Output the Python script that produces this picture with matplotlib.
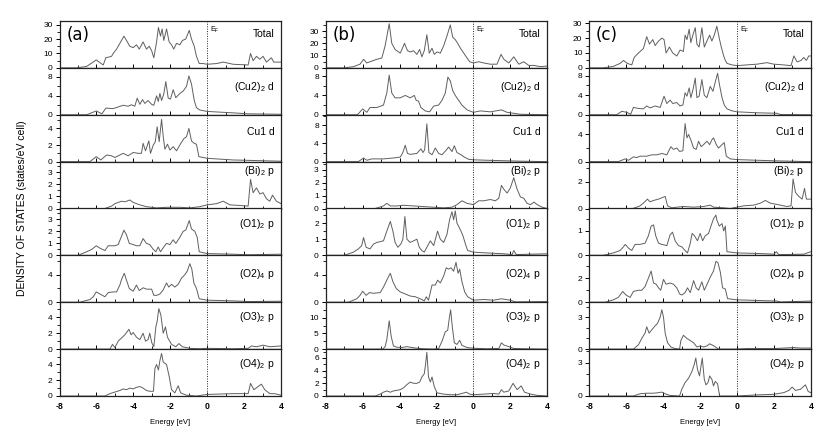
import matplotlib
matplotlib.use('Agg')
import matplotlib.pyplot as plt
from matplotlib.ticker import AutoMinorLocator, MultipleLocator

plt.rcParams['font.family'] = ['Liberation Sans', 'DejaVu Sans']
plt.rcParams['mathtext.default'] = 'regular'
plt.rcParams['axes.unicode_minus'] = False

a_total = [(-8, 0), (-7.08, 0), (-6.53, 1), (-6.01, 5.5), (-5.63, 2), (-5.49, 7), (-5.18, 8), (-5.09, 10),
           (-4.91, 13), (-4.73, 17), (-4.51, 22), (-4.37, 19), (-4.19, 15), (-4.01, 14), (-3.83, 16),
           (-3.68, 13), (-3.47, 18), (-3.29, 13), (-3.14, 15), (-3.01, 12), (-2.89, 7), (-2.74, 18),
           (-2.64, 28), (-2.53, 22), (-2.44, 27), (-2.35, 19), (-2.2, 27), (-2.06, 18), (-1.93, 16),
           (-1.81, 13), (-1.66, 17), (-1.48, 16), (-1.34, 19), (-1.16, 20), (-0.97, 26), (-0.85, 20),
           (-0.7, 15), (-0.58, 8), (-0.43, 3), (-0.22, 3), (0, 2.5), (0.51, 3), (0.87, 4), (1.41, 2.5),
           (2.22, 2), (2.35, 10), (2.49, 5), (2.67, 8), (2.85, 6), (3.03, 8), (3.21, 4), (3.48, 7),
           (3.61, 4), (4, 4)]
a_cu2 = [(-8, 0), (-6.53, 0), (-6.01, 0.8), (-5.7, 0.2), (-5.49, 1.4), (-5.09, 1.3), (-4.55, 2.0), (-4.28, 1.8),
         (-4.1, 2.1), (-3.92, 1.8), (-3.79, 3.5), (-3.65, 2.2), (-3.5, 3.2), (-3.38, 2.4), (-3.2, 3.0),
         (-3.01, 2.2), (-2.89, 2.0), (-2.74, 4.0), (-2.65, 2.8), (-2.56, 4.5), (-2.47, 3.0), (-2.35, 4.4),
         (-2.24, 7.0), (-2.11, 3.5), (-1.99, 3.3), (-1.84, 5.3), (-1.7, 3.6), (-1.48, 4.5), (-1.3, 5.0),
         (-1.12, 6.0), (-0.99, 8.2), (-0.85, 6.5), (-0.7, 3.0), (-0.58, 1.5), (-0.4, 1.0), (0, 0.7),
         (1.41, 0.4), (2.22, 0.2), (4, 0.1)]
a_cu1 = [(-8, 0), (-6.35, 0), (-6.01, 0.6), (-5.76, 0.2), (-5.45, 0.8), (-5.18, 0.7), (-5.0, 0.5), (-4.55, 1.0),
         (-4.28, 0.7), (-4.01, 1.1), (-3.74, 1.0), (-3.56, 1.0), (-3.47, 2.2), (-3.34, 1.3), (-3.16, 2.5),
         (-3.07, 1.0), (-2.92, 2.0), (-2.81, 2.4), (-2.71, 4.2), (-2.6, 2.4), (-2.47, 5.1), (-2.38, 3.0),
         (-2.29, 1.5), (-2.15, 2.1), (-2.02, 1.4), (-1.84, 1.8), (-1.66, 1.3), (-1.43, 2.2), (-1.25, 2.8),
         (-1.12, 3.0), (-0.99, 4.0), (-0.85, 2.5), (-0.7, 2.2), (-0.58, 2.1), (-0.45, 0.6), (0, 0.4),
         (1.41, 0.2), (4, 0.05)]
a_bi = [(-8, 0), (-5.54, 0), (-5.18, 0.2), (-5.0, 0.4), (-4.82, 0.5), (-4.64, 0.6), (-4.46, 0.55), (-4.19, 0.7),
        (-4.01, 0.5), (-3.65, 0.3), (-3.29, 0.15), (-2.74, 0.05), (-2.2, 0.1), (-1.48, 0.1), (-0.94, 0.05),
        (-0.4, 0.15), (0, 0.3), (0.51, 0.4), (0.87, 0.6), (1.23, 0.3), (1.77, 0.25), (2.22, 0.2), (2.35, 2.4),
        (2.49, 1.3), (2.67, 1.7), (2.85, 1.2), (3.03, 1.3), (3.21, 0.8), (3.39, 0.6), (3.54, 1.1),
        (3.75, 0.6), (4, 0.4)]
a_o1 = [(-8, 0), (-7.0, 0), (-6.53, 0.3), (-6.25, 0.5), (-6.01, 0.8), (-5.81, 0.6), (-5.54, 0.4), (-5.36, 0.8),
        (-5.0, 0.8), (-4.82, 0.9), (-4.69, 1.4), (-4.51, 2.1), (-4.37, 1.7), (-4.22, 1.0), (-4.01, 0.9),
        (-3.83, 0.8), (-3.65, 0.8), (-3.47, 1.4), (-3.29, 1.0), (-3.11, 0.9), (-2.92, 0.5), (-2.78, 0.3),
        (-2.65, 0.7), (-2.53, 0.3), (-2.35, 0.7), (-2.2, 1.0), (-2.02, 0.9), (-1.84, 1.3), (-1.7, 1.0),
        (-1.48, 1.5), (-1.3, 2.0), (-1.16, 2.1), (-0.97, 2.9), (-0.85, 2.2), (-0.67, 2.0), (-0.54, 1.5),
        (-0.43, 0.3), (0, 0.15), (1.41, 0.1), (2.22, 0.05), (4, 0.1)]
a_o2 = [(-8, 0), (-6.9, 0), (-6.35, 0.4), (-6.17, 0.8), (-6.01, 1.5), (-5.81, 1.2), (-5.54, 0.8), (-5.36, 1.4),
        (-5.09, 1.5), (-4.91, 1.5), (-4.73, 2.5), (-4.64, 3.3), (-4.49, 4.2), (-4.37, 3.2), (-4.22, 2.0),
        (-4.01, 1.6), (-3.83, 2.5), (-3.68, 1.7), (-3.47, 2.1), (-3.29, 1.9), (-3.01, 1.9), (-2.89, 1.0),
        (-2.74, 1.0), (-2.56, 1.2), (-2.38, 1.8), (-2.2, 2.8), (-2.08, 2.2), (-1.93, 2.6), (-1.75, 2.2),
        (-1.57, 2.6), (-1.39, 3.5), (-1.21, 4.0), (-1.08, 4.5), (-0.94, 5.6), (-0.83, 4.8), (-0.72, 2.8),
        (-0.58, 2.0), (-0.43, 0.5), (0, 0.3), (1.41, 0.2), (2.22, 0.1), (4, 0.15)]
a_o3 = [(-8, 0), (-5.27, 0), (-5.13, 0.6), (-5.0, 0.2), (-4.82, 1.0), (-4.64, 1.4), (-4.46, 1.8), (-4.24, 2.5),
        (-4.12, 1.8), (-4.01, 2.1), (-3.83, 1.5), (-3.65, 1.2), (-3.47, 2.0), (-3.34, 1.0), (-3.2, 1.2),
        (-3.11, 2.0), (-3.0, 0.8), (-2.89, 0.3), (-2.78, 2.8), (-2.71, 3.5), (-2.62, 5.1), (-2.51, 4.3),
        (-2.38, 2.0), (-2.26, 2.8), (-2.15, 1.5), (-1.93, 0.6), (-1.7, 0.3), (-1.53, 0.7), (-1.34, 0.3),
        (-0.94, 0.1), (-0.4, 0.05), (0, 0.1), (1.41, 0.05), (2.22, 0.1), (2.4, 0.4), (2.67, 0.3),
        (3.03, 0.5), (3.39, 0.3), (4, 0.4)]
a_o4 = [(-8, 0), (-5.54, 0), (-5.27, 0.3), (-5.0, 0.5), (-4.73, 0.7), (-4.55, 0.9), (-4.37, 0.8), (-4.19, 1.0),
        (-4.01, 0.9), (-3.83, 1.1), (-3.65, 1.2), (-3.47, 1.0), (-3.29, 0.7), (-3.11, 0.6), (-2.91, 0.6),
        (-2.83, 3.5), (-2.74, 4.0), (-2.64, 3.3), (-2.56, 4.5), (-2.47, 5.4), (-2.38, 4.3), (-2.2, 4.0),
        (-2.06, 2.5), (-1.93, 0.8), (-1.75, 0.4), (-1.57, 1.3), (-1.44, 0.4), (-1.12, 0.1), (-0.58, 0.0),
        (0, 0.2), (1.41, 0.3), (2.22, 0.3), (2.35, 1.6), (2.53, 0.8), (2.76, 1.2), (2.94, 1.5), (3.12, 0.8),
        (3.39, 0.3), (3.65, 0.3), (4, 0.1)]

b_total = [(-8, 0), (-7.0, 0), (-6.5, 1), (-6.14, 3), (-5.95, 7), (-5.77, 4), (-5.6, 5), (-5.23, 7), (-4.96, 8),
           (-4.78, 18), (-4.56, 36), (-4.42, 20), (-4.24, 15), (-3.96, 12), (-3.73, 20), (-3.57, 14),
           (-3.42, 13), (-3.24, 14), (-3.06, 11), (-2.91, 15), (-2.79, 9), (-2.66, 14), (-2.52, 27),
           (-2.39, 12), (-2.24, 16), (-2.12, 11), (-1.97, 13), (-1.79, 12), (-1.61, 18), (-1.43, 26),
           (-1.25, 35), (-1.12, 25), (-0.98, 23), (-0.85, 20), (-0.7, 16), (-0.52, 12), (-0.34, 8),
           (-0.2, 5), (0, 4), (0.29, 5), (0.56, 4), (0.92, 3), (1.28, 3), (1.5, 11), (1.65, 7), (1.92, 4),
           (2.19, 9), (2.46, 3), (2.73, 5), (3.0, 2), (3.28, 2), (3.64, 1), (4, 1.5)]
b_cu2 = [(-8, 0), (-6.28, 0), (-6.0, 1.2), (-5.77, 0.5), (-5.6, 1.5), (-5.23, 1.5), (-4.87, 2.0), (-4.69, 4.5),
         (-4.56, 8.2), (-4.42, 4.5), (-4.24, 3.5), (-3.96, 3.5), (-3.69, 4.0), (-3.42, 3.5), (-3.2, 4.0),
         (-3.1, 3.0), (-2.97, 2.8), (-2.84, 1.5), (-2.61, 0.8), (-2.37, 0.6), (-2.15, 1.8), (-1.88, 2.0),
         (-1.7, 3.0), (-1.52, 4.5), (-1.38, 7.8), (-1.25, 7.0), (-1.12, 5.0), (-0.98, 4.0), (-0.8, 3.0),
         (-0.62, 2.0), (-0.34, 1.0), (0, 0.5), (0.38, 0.8), (0.92, 0.6), (1.52, 1.0), (1.83, 0.5),
         (2.19, 0.3), (2.55, 0.1), (4, 0.0)]
b_cu1 = [(-8, 0), (-6.23, 0), (-5.95, 0.8), (-5.77, 0.3), (-5.5, 0.6), (-4.87, 0.6), (-4.33, 0.8), (-3.96, 1.0),
         (-3.82, 2.0), (-3.69, 3.6), (-3.57, 1.8), (-3.42, 1.6), (-3.06, 1.8), (-2.84, 2.8), (-2.73, 2.0),
         (-2.64, 2.6), (-2.52, 8.3), (-2.41, 2.0), (-2.24, 1.5), (-2.06, 3.0), (-1.88, 1.8), (-1.7, 1.5),
         (-1.52, 2.3), (-1.34, 3.2), (-1.16, 2.2), (-1.03, 3.5), (-0.89, 2.0), (-0.67, 1.5), (-0.49, 1.0),
         (-0.25, 0.5), (0, 0.4), (0.74, 0.3), (1.65, 0.2), (2.55, 0.1), (4, 0.0)]
b_bi = [(-8, 0), (-5.32, 0), (-4.87, 0.2), (-4.69, 0.4), (-4.5, 0.2), (-4.14, 0.2), (-3.78, 0.25), (-3.24, 0.2),
        (-2.7, 0.15), (-2.15, 0.1), (-1.61, 0.05), (-1.16, 0.1), (-0.89, 0.3), (-0.62, 0.6), (-0.34, 0.4),
        (0, 0.3), (0.29, 0.6), (0.56, 0.6), (0.92, 0.7), (1.19, 0.6), (1.38, 0.8), (1.52, 1.8), (1.65, 1.5),
        (1.83, 1.2), (2.0, 1.6), (2.19, 2.4), (2.37, 1.5), (2.55, 0.9), (2.73, 0.8), (2.91, 0.4),
        (3.1, 0.3), (3.28, 0.5), (3.46, 0.3), (3.73, 0.1), (4, 0)]
b_o1 = [(-8, 0), (-7.0, 0), (-6.5, 0.2), (-6.23, 0.4), (-6.05, 0.6), (-5.95, 1.1), (-5.81, 0.5), (-5.6, 0.4),
        (-5.41, 0.7), (-5.23, 0.8), (-4.87, 0.9), (-4.69, 1.5), (-4.5, 2.1), (-4.36, 1.5), (-4.24, 0.8),
        (-4.09, 0.5), (-3.93, 0.7), (-3.82, 1.0), (-3.71, 2.4), (-3.6, 1.0), (-3.42, 0.8), (-3.24, 0.9),
        (-3.06, 1.0), (-2.93, 0.5), (-2.79, 0.3), (-2.66, 0.2), (-2.52, 0.5), (-2.33, 0.9), (-2.15, 0.6),
        (-1.94, 1.5), (-1.79, 1.0), (-1.61, 0.8), (-1.43, 1.3), (-1.29, 2.2), (-1.16, 2.7), (-1.07, 2.2),
        (-0.98, 2.75), (-0.89, 2.0), (-0.8, 1.8), (-0.67, 1.5), (-0.56, 1.2), (-0.43, 0.7), (-0.31, 0.3),
        (0, 0.2), (0.74, 0.15), (1.65, 0.1), (2.1, 0.05), (2.19, 0.3), (2.32, 0.05), (4, 0.1)]
b_o2 = [(-8, 0), (-6.77, 0), (-6.32, 0.5), (-6.14, 1.0), (-6.0, 1.6), (-5.81, 1.0), (-5.63, 1.4), (-5.41, 1.3),
        (-5.05, 1.4), (-4.87, 2.2), (-4.69, 3.2), (-4.5, 4.2), (-4.36, 3.0), (-4.18, 2.0), (-3.96, 1.5),
        (-3.69, 1.2), (-3.42, 0.9), (-3.15, 0.8), (-2.97, 0.6), (-2.79, 0.4), (-2.66, 0.2), (-2.55, 0.8),
        (-2.43, 0.3), (-2.24, 2.5), (-2.06, 2.5), (-1.94, 3.2), (-1.79, 2.8), (-1.61, 3.8), (-1.47, 5.0),
        (-1.34, 4.8), (-1.21, 5.0), (-1.07, 4.5), (-0.94, 5.8), (-0.83, 4.2), (-0.74, 4.8), (-0.62, 3.0),
        (-0.47, 1.5), (-0.31, 0.8), (0, 0.3), (0.56, 0.4), (1.1, 0.3), (1.52, 0.5), (2.0, 0.3),
        (2.28, 0.05), (4, 0.1)]
b_o3 = [(-8, 0), (-4.9, 0), (-4.78, 0.8), (-4.69, 3.0), (-4.56, 9.0), (-4.45, 4.0), (-4.33, 1.0), (-4.14, 0.6),
        (-3.87, 0.5), (-3.6, 0.8), (-3.33, 0.5), (-3.06, 0.3), (-2.7, 0.1), (-2.15, 0.0), (-1.88, 0.2),
        (-1.7, 2.5), (-1.52, 5.5), (-1.39, 6.0), (-1.3, 10.0), (-1.23, 12.5), (-1.14, 7.0), (-1.03, 2.0),
        (-0.89, 1.5), (-0.74, 2.8), (-0.62, 1.2), (-0.34, 0.5), (0, 0.3), (0.74, 0.1), (1.38, 0.2),
        (1.52, 2.0), (1.65, 1.3), (1.92, 0.8), (2.19, 0.2), (2.73, 0.1), (4, 0)]
b_o4 = [(-8, 0), (-5.32, 0), (-5.05, 0.3), (-4.87, 0.6), (-4.69, 0.8), (-4.5, 0.6), (-4.33, 0.8), (-4.14, 0.9),
        (-3.96, 1.0), (-3.78, 1.3), (-3.6, 1.8), (-3.42, 2.2), (-3.24, 2.0), (-3.06, 2.0), (-2.91, 2.2),
        (-2.79, 3.0), (-2.66, 3.5), (-2.59, 5.0), (-2.52, 6.9), (-2.43, 3.0), (-2.33, 2.2), (-2.24, 3.0),
        (-2.12, 1.5), (-1.97, 0.5), (-1.61, 0.3), (-1.25, 0.2), (-0.89, 0.2), (-0.62, 0.4), (-0.38, 0.6),
        (-0.2, 0.3), (0, 0.2), (0.56, 0.3), (1.1, 0.4), (1.38, 0.3), (1.52, 1.0), (1.65, 0.6), (1.92, 0.8),
        (2.15, 2.0), (2.37, 1.0), (2.59, 1.6), (2.77, 0.6), (3.1, 0.3), (3.46, 0.1), (4, 0)]

c_total = [(-8, 0), (-7.24, 0), (-6.7, 1), (-6.33, 3), (-6.15, 5), (-5.94, 3), (-5.7, 2), (-5.57, 7), (-5.34, 10),
           (-5.07, 13), (-4.89, 21), (-4.74, 16), (-4.56, 19), (-4.43, 15), (-4.25, 18), (-4.07, 20),
           (-3.95, 19), (-3.84, 10), (-3.66, 14), (-3.48, 10), (-3.26, 8), (-3.08, 12), (-2.9, 11),
           (-2.81, 22), (-2.71, 19), (-2.59, 26), (-2.5, 17), (-2.39, 22), (-2.26, 27), (-2.17, 16),
           (-2.05, 14), (-1.9, 27), (-1.77, 14), (-1.63, 18), (-1.48, 22), (-1.36, 18), (-1.23, 22),
           (-1.09, 28), (-0.96, 20), (-0.85, 14), (-0.72, 8), (-0.63, 5), (-0.54, 3), (-0.27, 2), (0, 1.5),
           (0.54, 2), (1.09, 2.5), (1.63, 3.5), (1.99, 2.5), (2.53, 2.0), (2.93, 1.5), (3.08, 8), (3.26, 4),
           (3.47, 5), (3.62, 7), (3.76, 5), (3.89, 8), (4, 8)]
c_cu2 = [(-8, 0), (-6.52, 0), (-6.24, 0.7), (-5.97, 0.5), (-5.76, 0.1), (-5.61, 1.5), (-5.34, 1.3), (-5.07, 1.2),
         (-4.89, 1.8), (-4.71, 1.4), (-4.43, 1.8), (-4.16, 1.5), (-3.95, 3.8), (-3.8, 2.3), (-3.62, 3.0),
         (-3.48, 2.3), (-3.26, 2.5), (-3.08, 1.8), (-2.93, 2.0), (-2.81, 4.5), (-2.71, 3.8), (-2.59, 5.5),
         (-2.5, 3.5), (-2.39, 5.0), (-2.26, 7.5), (-2.17, 3.5), (-2.05, 3.8), (-1.9, 7.2), (-1.77, 4.0),
         (-1.63, 3.5), (-1.45, 5.8), (-1.3, 4.8), (-1.19, 6.5), (-1.05, 8.5), (-0.94, 6.0), (-0.81, 3.5),
         (-0.69, 2.0), (-0.54, 1.2), (-0.27, 0.8), (0, 0.6), (1.09, 0.4), (2.17, 0.3), (2.35, 0.05), (4, 0)]
c_cu1 = [(-8, 0), (-6.43, 0), (-6.06, 0.4), (-5.88, 0.2), (-5.61, 0.7), (-5.43, 0.6), (-5.25, 0.8), (-4.89, 0.8),
         (-4.62, 1.0), (-4.34, 1.0), (-4.07, 1.2), (-3.8, 1.0), (-3.71, 1.5), (-3.58, 2.2), (-3.44, 1.8),
         (-3.26, 2.0), (-3.11, 1.5), (-2.93, 1.6), (-2.81, 5.6), (-2.71, 3.5), (-2.62, 4.0), (-2.5, 3.2),
         (-2.35, 2.0), (-2.21, 1.8), (-2.08, 3.0), (-1.94, 2.2), (-1.81, 2.5), (-1.63, 3.0), (-1.48, 2.5),
         (-1.36, 3.2), (-1.27, 3.5), (-1.12, 2.5), (-1.0, 2.0), (-0.81, 2.5), (-0.69, 2.8), (-0.58, 0.8),
         (-0.36, 0.4), (0, 0.3), (1.09, 0.2), (2.35, 0.1), (4, 0)]
c_bi = [(-8, 0), (-5.65, 0), (-5.43, 0.1), (-5.25, 0.2), (-5.07, 0.4), (-4.85, 0.7), (-4.71, 0.5), (-4.52, 0.6),
        (-4.25, 0.7), (-4.07, 0.8), (-3.89, 0.9), (-3.76, 0.2), (-3.53, 0.05), (-3.26, 0.1), (-2.9, 0.15),
        (-2.35, 0.1), (-1.81, 0.15), (-1.45, 0.25), (-1.27, 0.1), (-0.72, 0.05), (-0.36, 0.0), (0, 0.1),
        (0.36, 0.2), (0.9, 0.25), (1.27, 0.4), (1.54, 0.6), (1.81, 0.4), (2.17, 0.3), (2.71, 0.15),
        (2.93, 0.2), (3.04, 2.2), (3.17, 1.2), (3.35, 0.9), (3.53, 0.7), (3.66, 1.5), (3.76, 0.7), (4, 0.7)]
c_o1 = [(-8, 0), (-7.24, 0), (-6.7, 0.1), (-6.33, 0.2), (-6.15, 0.35), (-6.05, 0.45), (-5.88, 0.3), (-5.7, 0.2),
        (-5.52, 0.45), (-5.25, 0.45), (-4.98, 0.5), (-4.8, 0.8), (-4.65, 1.2), (-4.52, 1.25), (-4.4, 0.8),
        (-4.25, 0.5), (-4.07, 0.45), (-3.8, 0.4), (-3.62, 0.85), (-3.49, 0.95), (-3.35, 0.6), (-3.17, 0.4),
        (-2.99, 0.35), (-2.81, 0.2), (-2.68, 0.1), (-2.53, 0.5), (-2.43, 0.9), (-2.3, 0.8), (-2.14, 0.6),
        (-1.99, 0.9), (-1.86, 0.6), (-1.72, 0.8), (-1.54, 0.9), (-1.41, 1.2), (-1.27, 1.5), (-1.14, 1.65),
        (-1.09, 1.45), (-0.96, 1.2), (-0.81, 1.3), (-0.72, 1.0), (-0.63, 1.2), (-0.54, 0.15), (0, 0.1),
        (1.09, 0.08), (1.99, 0.05), (2.14, 0.15), (2.26, 0.03), (3.62, 0.05), (4, 0.15)]
c_o2 = [(-8, 0), (-7.15, 0), (-6.7, 0.2), (-6.43, 0.4), (-6.19, 0.9), (-6.01, 0.6), (-5.79, 0.4), (-5.61, 0.9),
        (-5.34, 1.0), (-5.16, 1.0), (-4.98, 1.3), (-4.8, 2.0), (-4.65, 2.6), (-4.52, 1.6), (-4.38, 1.5),
        (-4.25, 1.2), (-4.13, 1.0), (-3.98, 1.9), (-3.84, 1.5), (-3.62, 1.6), (-3.44, 1.5), (-3.26, 1.2),
        (-3.11, 0.7), (-2.99, 0.6), (-2.81, 0.8), (-2.68, 1.2), (-2.53, 0.8), (-2.35, 1.8), (-2.21, 1.2),
        (-2.08, 1.0), (-1.9, 1.7), (-1.77, 1.0), (-1.59, 1.6), (-1.41, 2.2), (-1.27, 2.6), (-1.14, 3.4),
        (-1.03, 3.3), (-0.9, 2.5), (-0.78, 1.2), (-0.63, 1.1), (-0.51, 0.3), (0, 0.2), (1.09, 0.15),
        (2.17, 0.1), (2.35, 0.02), (4, 0.1)]
c_o3 = [(-8, 0), (-5.61, 0), (-5.34, 0.4), (-5.16, 1.0), (-4.98, 1.5), (-4.89, 2.1), (-4.76, 1.5), (-4.62, 1.8),
        (-4.43, 2.2), (-4.31, 2.4), (-4.16, 3.0), (-4.07, 3.7), (-3.98, 3.0), (-3.89, 1.5), (-3.76, 0.6),
        (-3.58, 0.2), (-3.35, 0.05), (-3.11, 0.0), (-3.04, 0.8), (-2.9, 1.3), (-2.71, 1.0), (-2.53, 0.8),
        (-2.35, 0.6), (-2.17, 0.2), (-1.99, 0.3), (-1.81, 0.2), (-1.63, 0.3), (-1.48, 0.5), (-1.3, 0.35),
        (-1.12, 0.15), (-1.0, 0.0), (0, 0.0), (0.54, 0.05), (1.99, 0.05), (3.08, 0.15), (3.44, 0.1),
        (4, 0.1)]
c_o4 = [(-8, 0), (-5.61, 0), (-5.25, 0.2), (-4.89, 0.25), (-4.52, 0.25), (-4.25, 0.3), (-4.07, 0.35), (-3.89, 0.2),
        (-3.62, 0.05), (-3.11, 0.0), (-2.99, 0.6), (-2.81, 1.2), (-2.62, 1.6), (-2.44, 2.2), (-2.32, 2.8),
        (-2.23, 3.4), (-2.14, 2.4), (-2.03, 1.8), (-1.88, 3.4), (-1.77, 1.5), (-1.68, 1.0), (-1.57, 1.2),
        (-1.48, 1.8), (-1.36, 1.5), (-1.27, 0.9), (-1.18, 1.3), (-1.05, 1.1), (-0.94, 0.0), (0, 0.0),
        (0.54, 0.05), (1.09, 0.1), (1.99, 0.15), (2.53, 0.3), (2.81, 0.5), (2.99, 0.8), (3.17, 0.5),
        (3.44, 0.6), (3.71, 1.0), (3.86, 0.4), (4, 0.3)]

labels = ['Total', '(Cu2)$_2$ d', 'Cu1 d', '(Bi)$_2$ p', '(O1)$_2$ p', '(O2)$_4$ p', '(O3)$_2$ p', '(O4)$_2$ p']
label_y = [0.72, 0.6, 0.64, 0.8, 0.67, 0.61, 0.68, 0.68]
panel_names = ['(a)', '(b)', '(c)']
columns = [
    [a_total, a_cu2, a_cu1, a_bi, a_o1, a_o2, a_o3, a_o4],
    [b_total, b_cu2, b_cu1, b_bi, b_o1, b_o2, b_o3, b_o4],
    [c_total, c_cu2, c_cu1, c_bi, c_o1, c_o2, c_o3, c_o4],
]
# gorne granice osi y i glowne podzialki
ymax = [
    [32.5, 9.9, 5.65, 3.86, 3.9, 6.8, 5.9, 5.95],
    [38.2, 9.7, 10.3, 3.65, 2.9, 6.8, 14.9, 7.4],
    [31.5, 9.6, 6.9, 3.5, 1.92, 3.9, 4.4, 4.2],
]
ystep = [
    [10, 4, 2, 1, 1, 4, 2, 2],
    [10, 4, 4, 1, 1, 4, 5, 2],
    [10, 4, 4, 2, 1, 2, 3, 3],
]

W, H = 830, 446
fig = plt.figure(figsize=(W / 100, H / 100), dpi=100)

col_left = [59.5, 325.7, 589.3]
col_width = 221.5
top_px = 21
panel_h = 375 / 8

for c in range(3):
    for r in range(8):
        y0 = top_px + (r + 1) * panel_h
        ax = fig.add_axes([col_left[c] / W, 1 - y0 / H, col_width / W, panel_h / H])
        data = columns[c][r]
        xs = [p[0] for p in data]
        ys = [p[1] for p in data]
        ax.plot(xs, ys, color='#5f5f5f', lw=0.7)
        ax.axvline(0, color='#222222', ls=(0, (1, 1.5)), lw=0.7)
        ax.set_xlim(-8, 4)
        ax.set_ylim(0, ymax[c][r])
        step = ystep[c][r]
        ax.yaxis.set_major_locator(MultipleLocator(step))
        ax.yaxis.set_minor_locator(AutoMinorLocator(3 if step == 3 else 2))
        ax.xaxis.set_major_locator(MultipleLocator(2))
        ax.xaxis.set_minor_locator(MultipleLocator(1))
        ax.tick_params(axis='y', which='major', direction='out', length=3, width=0.7, labelsize=6, pad=2)
        ax.tick_params(axis='y', which='minor', direction='out', length=2, width=0.6)
        ax.tick_params(axis='x', which='major', direction='in', length=3, width=0.7, labelsize=6.2, pad=4)
        ax.tick_params(axis='x', which='minor', direction='in', length=2, width=0.6)
        for s in ax.spines.values():
            s.set_linewidth(0.9)
            s.set_color('#222222')
        if r < 7:
            ax.tick_params(axis='x', labelbottom=False)
        else:
            for t in ax.get_xticklabels():
                t.set_fontweight('bold')
        ax.text(0.97, label_y[r], labels[r], transform=ax.transAxes, ha='right', va='center', fontsize=7.5)
        if r == 0:
            ax.text(0.03, 0.7, panel_names[c], transform=ax.transAxes, ha='left', va='center',
                    fontsize=12, family='DejaVu Sans')
            ax.text(0.15, 0.92, 'E$_F$', transform=ax.get_xaxis_transform(), ha='left', va='top',
                    fontsize=5)
    fig.text((col_left[c] + col_width / 2) / W, 1 - 422 / H, 'Energy [eV]', ha='center', va='center', fontsize=5.5)

fig.text(22 / W, 1 - 208 / H, 'DENSITY OF STATES (states/eV cell)', rotation=90, ha='center', va='center',
         fontsize=7.5)

fig.savefig('out.png', dpi=100)
